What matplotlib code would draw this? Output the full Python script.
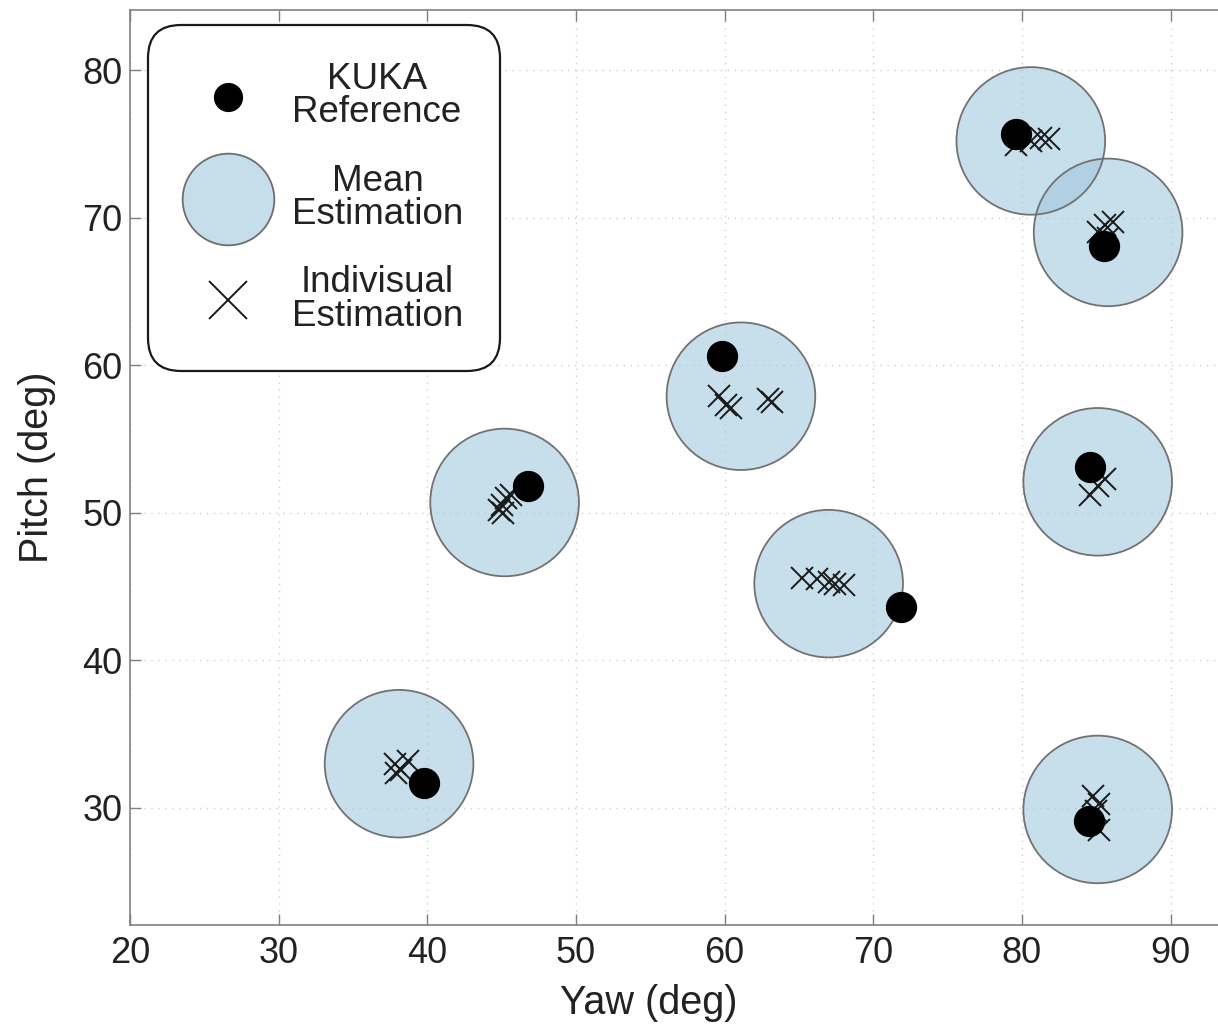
import matplotlib
matplotlib.use("Agg")
import matplotlib.pyplot as plt
from matplotlib.patches import Ellipse
from matplotlib.lines import Line2D

# mean estimation circles (yaw, pitch) and radius in deg
mean_yaw = [80.6, 85.8, 61.1, 45.2, 85.1, 67.0, 38.1, 85.1]
mean_pitch = [75.2, 69.0, 57.9, 50.7, 52.1, 45.2, 33.0, 29.9]
radius = 5.0

# KUKA reference points
ref_yaw = [79.6, 85.5, 59.8, 46.8, 84.6, 71.9, 39.8, 84.5]
ref_pitch = [75.7, 68.1, 60.6, 51.8, 53.1, 43.6, 31.7, 29.1]

# individual estimations
ind_yaw = [79.6, 80.6, 81.3, 81.8,
           85.6, 86.1, 85.1, 85.8,
           59.6, 60.1, 60.4, 62.9, 63.2,
           44.8, 45.0, 45.3, 45.6, 45.1,
           84.6, 85.6, 85.1,
           65.2, 66.2, 67.0, 67.4, 68.0,
           37.8, 38.7, 38.2, 37.9,
           84.8, 85.2, 85.2, 85.0]
ind_pitch = [74.9, 75.2, 75.4, 75.3,
             69.5, 69.7, 69.0, 68.6,
             57.9, 57.3, 57.1, 57.7, 57.5,
             50.2, 50.5, 51.0, 51.2, 50.0,
             51.2, 52.3, 51.8,
             45.6, 45.5, 45.3, 45.2, 45.1,
             33.0, 33.2, 32.6, 32.4,
             30.8, 30.3, 28.5, 29.8]

plt.rcParams['font.family'] = ['Liberation Sans', 'DejaVu Sans']

fig = plt.figure(figsize=(12.18, 10.27), dpi=100)
ax = fig.add_axes([130 / 1218, 1 - 925 / 1027, 1100 / 1218, 915 / 1027])

circ_face = (0.64, 0.785, 0.87)
for x, y in zip(mean_yaw, mean_pitch):
    ax.add_patch(Ellipse((x, y), 2 * radius, 2 * radius, facecolor=circ_face,
                         alpha=0.6, edgecolor='none', zorder=2))
    ax.add_patch(Ellipse((x, y), 2 * radius, 2 * radius, facecolor='none',
                         edgecolor='#727272', linewidth=1.3, zorder=2.1))

ax.plot(ind_yaw, ind_pitch, linestyle='none', marker='x', markersize=16,
        markeredgewidth=1.4, color='#1a1a1a', zorder=3)
ax.plot(ref_yaw, ref_pitch, linestyle='none', marker='o', markersize=21.5,
        color='black', zorder=4)

ax.set_xlim(20, 94)
ax.set_ylim(22.07, 84.07)
ax.set_xticks([20, 30, 40, 50, 60, 70, 80, 90])
ax.set_yticks([30, 40, 50, 60, 70, 80])
ax.grid(True, linestyle=(0, (1, 4)), color='#cfcfcf', linewidth=1.0)
ax.set_axisbelow(True)

for s in ax.spines.values():
    s.set_color('#808080')
    s.set_linewidth(1.2)
ax.tick_params(direction='in', length=8, width=1, colors='#808080',
               labelcolor='#222222', labelsize=26, top=True, right=True)
ax.tick_params(axis='x', pad=8)
ax.tick_params(axis='y', pad=5.5)

ax.set_xlabel('Yaw (deg)', fontsize=28.5, color='#222222', labelpad=9, x=0.472)
ax.set_ylabel('Pitch (deg)', fontsize=28.5, color='#222222', labelpad=19)

handles = [
    Line2D([], [], linestyle='none', marker='o', markersize=20, color='black'),
    Line2D([], [], linestyle='none', marker='o', markersize=66,
           markerfacecolor='#c6deea', markeredgecolor='#6e6e6e', markeredgewidth=1.3),
    Line2D([], [], linestyle='none', marker='x', markersize=28,
           markeredgewidth=1.4, color='#1a1a1a'),
]
labels = ['KUKA\nReference', 'Mean\nEstimation', 'Indivisual\nEstimation']
leg = ax.legend(handles, labels, loc='upper left', bbox_to_anchor=(0.0164, 0.9836),
                borderaxespad=0, fontsize=26.5, borderpad=1.0, handlelength=2.34,
                handletextpad=0.57, labelspacing=0.9, fancybox=True,
                framealpha=1, edgecolor='#1a1a1a')
leg.get_frame().set_boxstyle('round', pad=0, rounding_size=0.9)
leg.get_frame().set_linewidth(1.6)
for t in leg.get_texts():
    t.set_multialignment('center')
    t.set_linespacing(0.95)
    t.set_color('#222222')

fig.savefig('out.png', dpi=100)
